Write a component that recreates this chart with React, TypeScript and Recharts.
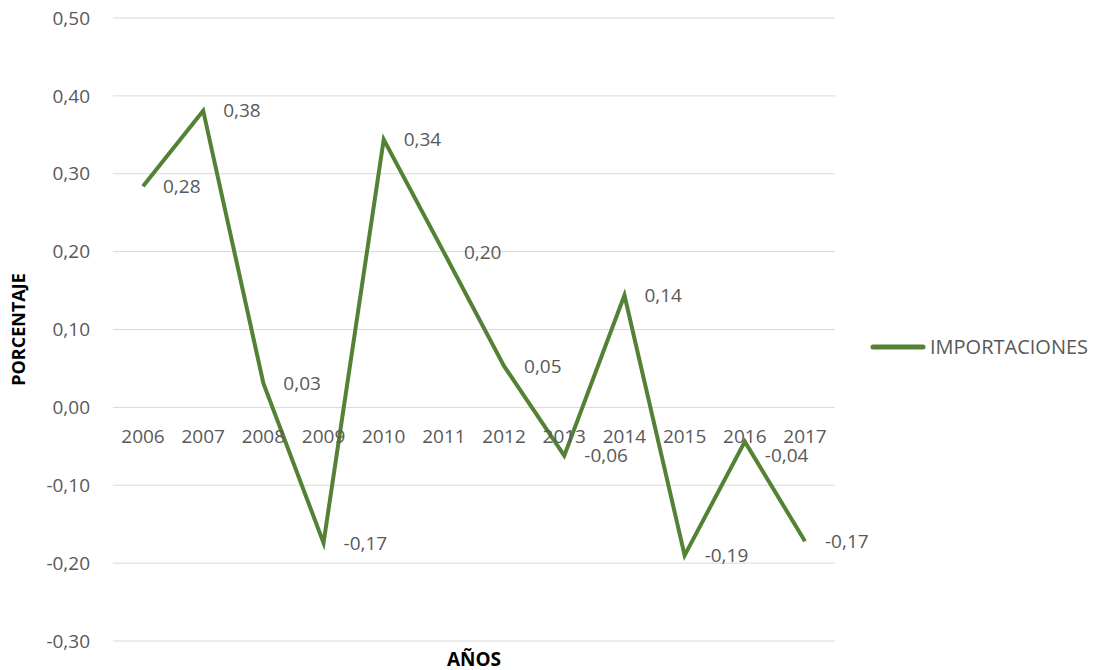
import { LineChart, Line, XAxis, YAxis, CartesianGrid, Legend, LabelList, ReferenceDot } from "recharts";

const years = ["2006", "2007", "2008", "2009", "2010", "2011", "2012", "2013", "2014", "2015", "2016", "2017"];
const importaciones = [0.284, 0.381, 0.031, -0.174, 0.344, 0.199, 0.053, -0.062, 0.144, -0.19, -0.044, -0.172];
const yTicks = [-0.3, -0.2, -0.1, 0, 0.1, 0.2, 0.3, 0.4, 0.5];
// labels that Excel pushed a bit lower than the point
const labelDrop: Record<string, number> = { "2016": 14 };

const data = years.map((year, i) => ({ year, importaciones: importaciones[i] }));

const FONT = "'Open Sans', 'Liberation Sans', sans-serif";
const GREY = "#595959";
const GREEN = "#548235";

const fmt = (v: number) => v.toFixed(2).replace(".", ",");

function LegendBox() {
  return (
    <div style={{ display: "flex", alignItems: "center", fontFamily: FONT, fontSize: 20, color: GREY }}>
      <svg width={56} height={10}>
        <line x1={3} y1={5} x2={53} y2={5} stroke={GREEN} strokeWidth={5} strokeLinecap="round" />
      </svg>
      <span style={{ marginLeft: 4 }}>IMPORTACIONES</span>
    </div>
  );
}

function PointLabel(props: any) {
  const { x, y, value, index } = props;
  const dy = labelDrop[years[index]] || 0;
  return (
    <text x={x + 20} y={y + dy} dy="0.355em" fill={GREY} fontSize={19} fontFamily={FONT} textAnchor="start">
      {fmt(value)}
    </text>
  );
}

export default function App() {
  return (
    <div style={{ position: "absolute", left: 0, top: 0, background: "#fff" }}>
      <LineChart width={1097} height={670} data={data} margin={{ top: 18, right: 262, bottom: 0, left: 0 }}>
        <CartesianGrid vertical={false} stroke="#d9d9d9" />
        <XAxis
          dataKey="year"
          tick={false}
          tickLine={false}
          axisLine={false}
          height={29}
          padding={{ left: 30, right: 30 }}
          label={{ value: "AÑOS", position: "center", dy: 4, fill: "#000", fontSize: 19, fontWeight: 700, fontFamily: FONT }}
        />
        <YAxis
          width={113}
          domain={[-0.3, 0.5]}
          ticks={yTicks}
          tickFormatter={fmt}
          tickLine={false}
          axisLine={false}
          tickSize={0}
          tickMargin={23}
          tick={{ fill: GREY, fontSize: 19, fontFamily: FONT }}
          label={{
            value: "PORCENTAJE",
            angle: -90,
            position: "insideLeft",
            offset: 19,
            fill: "#000",
            fontSize: 18,
            fontWeight: 700,
            fontFamily: FONT,
            style: { textAnchor: "middle" },
          }}
        />
        <Legend
          layout="horizontal"
          verticalAlign="middle"
          align="center"
          wrapperStyle={{ left: 870, top: 333, width: 227 }}
          content={() => <LegendBox />}
        />
        {years.map((y) => (
          <ReferenceDot
            key={y}
            x={y}
            y={0}
            r={0}
            fill="none"
            stroke="none"
            label={{ value: y, position: "bottom", offset: 22, fill: GREY, fontSize: 19, fontFamily: FONT }}
          />
        ))}
        <Line
          type="linear"
          dataKey="importaciones"
          name="IMPORTACIONES"
          stroke={GREEN}
          strokeWidth={4}
          dot={false}
          activeDot={false}
          isAnimationActive={false}
        >
          <LabelList dataKey="importaciones" content={PointLabel} />
        </Line>
      </LineChart>
    </div>
  );
}
